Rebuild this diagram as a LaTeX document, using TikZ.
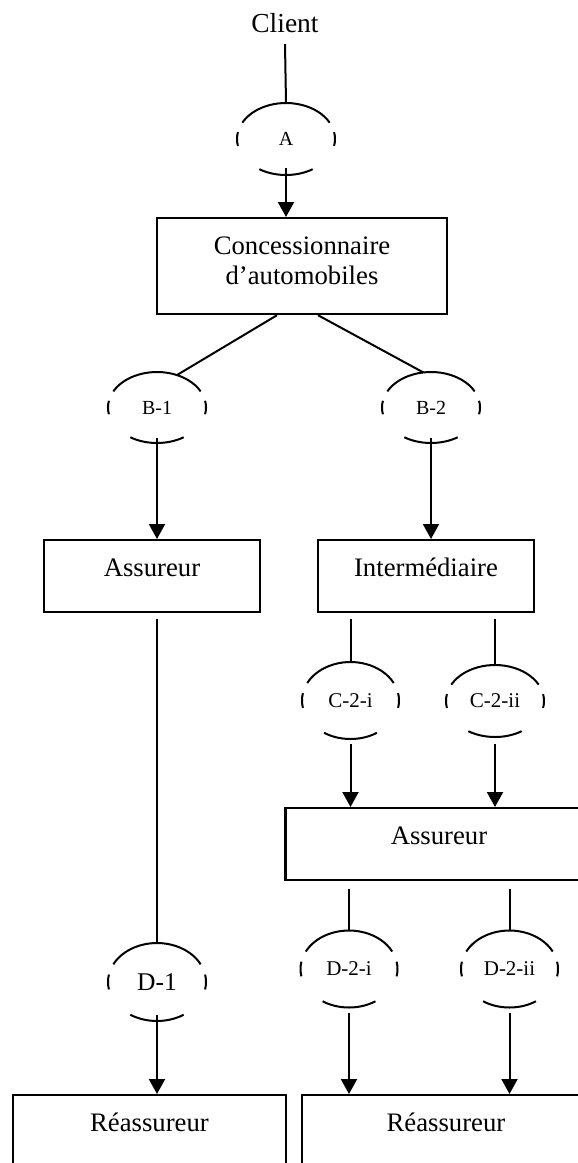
\documentclass[tikz,border=0pt]{standalone}
\usepackage{fontspec}
\setmainfont{Liberation Serif}
\usetikzlibrary{arrows.meta,shapes.geometric,calc}
\newcommand\gatearcs[3]{%
  \draw[arcline] ([shift={(27:#2 and #3)}]#1.center) arc[start angle=27,end angle=153,x radius=#2,y radius=#3];
  \draw[arcline] ([shift={(-57:#2 and #3)}]#1.center) arc[start angle=-57,end angle=-123,x radius=#2,y radius=#3];
  \draw[arcline] ([shift={(-11:#2 and #3)}]#1.center) arc[start angle=-11,end angle=11,x radius=#2,y radius=#3];
  \draw[arcline] ([shift={(169:#2 and #3)}]#1.center) arc[start angle=169,end angle=191,x radius=#2,y radius=#3];
}
\begin{document}
\begin{tikzpicture}[x=1pt,y=-1pt,
  box/.style={draw, line width=2.2pt, rectangle, inner sep=0pt, anchor=north,
    font=\fontsize{26.7}{30}\selectfont, text height=36pt, align=center},
  gate/.style={ellipse, inner sep=0pt, minimum width=98pt, font=\fontsize{20}{22}\selectfont},
  link/.style={line width=2pt},
  arr/.style={link, -{Triangle[length=15pt,width=16pt]}},
  arcline/.style={line width=2pt},
]
\clip (0,0) rectangle (578,1163);

% boxes
\node[box, minimum width=290pt, text height=66pt, text depth=30pt] (conc) at (302,217) {Concessionnaire\\d'automobiles};
\node[box, minimum width=216pt, text depth=36pt] (ass1) at (152,539) {Assureur};
\node[box, minimum width=216pt, text depth=36pt] (inter) at (426,539) {Intermédiaire};
\node[box, minimum width=307pt, text depth=36pt] (ass2) at (439,807) {Assureur};
\node[box, minimum width=273pt, text depth=60pt] (reass1) at (149.5,1094) {Réassureur};
\node[box, minimum width=288pt, text depth=60pt] (reass2) at (446,1094) {Réassureur};

% client
\node[anchor=base, font=\fontsize{27.5}{30}\selectfont, inner sep=0pt] (client) at (285,32) {Client};

% gates
\node[gate, minimum height=72pt] (A) at (286,139) {A};
\node[gate, minimum height=71pt] (B1) at (157,407.5) {B-1};
\node[gate, minimum height=71pt] (B2) at (431,407.5) {B-2};
\node[gate, minimum height=77pt, font=\fontsize{21}{23}\selectfont] (C2i) at (350.5,700.5) {C-2-i};
\node[gate, minimum height=72pt, font=\fontsize{21}{23}\selectfont] (C2ii) at (495,701) {C-2-ii};
\node[gate, minimum height=78pt, font=\fontsize{25.5}{28}\selectfont] (D1) at (157,982) {D-1};
\node[gate, minimum height=77pt, font=\fontsize{21}{23}\selectfont] (D2i) at (349,969) {D-2-i};
\node[gate, minimum height=77pt, font=\fontsize{21}{23}\selectfont] (D2ii) at (509.5,969) {D-2-ii};

\gatearcs{A}{49pt}{36pt}
\gatearcs{B1}{49pt}{35.5pt}
\gatearcs{B2}{49pt}{35.5pt}
\gatearcs{C2i}{48.5pt}{38.5pt}
\gatearcs{C2ii}{49pt}{36pt}
\gatearcs{D1}{49pt}{39pt}
\gatearcs{D2i}{48.5pt}{38.5pt}
\gatearcs{D2ii}{48.5pt}{38.5pt}

% connectors
\draw[link] ([yshift=-12pt]client.base) -- (A.north);
\draw[arr] ([yshift=-29pt]A.center) -- (A.center |- conc.north);
\draw[link] ([xshift=-25pt]conc.south) -- ([shift={(66:49pt and 35.5pt)}]B1.center);
\draw[link] ([xshift=16pt]conc.south) -- ([shift={(99:49pt and 35.5pt)}]B2.center);
\draw[arr] ([yshift=-30pt]B1.center) -- (B1.center |- ass1.north);
\draw[arr] ([yshift=-30pt]B2.center) -- (B2.center |- inter.north);
\draw[link] ($(ass1.south -| D1.center)+(0,6)$) -- (D1.north);
\draw[arr] ([yshift=-33pt]D1.center) -- (D1.center |- reass1.north);
\draw[link] ($(inter.south -| C2i.center)+(0,6)$) -- (C2i.north);
\draw[link] ($(inter.south -| C2ii.center)+(0,6)$) -- (C2ii.north);
\draw[arr] ($(C2i.south)+(0,5)$) -- (C2i.center |- ass2.north);
\draw[arr] ($(C2ii.south)+(0,7)$) -- (C2ii.center |- ass2.north);
\draw[link] ($(ass2.south -| D2i.center)+(0,8)$) -- (D2i.north);
\draw[link] ($(ass2.south -| D2ii.center)+(0,8)$) -- (D2ii.north);
\draw[arr] ($(D2i.south)+(0,5)$) -- (D2i.center |- reass2.north);
\draw[arr] ($(D2ii.south)+(0,5)$) -- (D2ii.center |- reass2.north);
\end{tikzpicture}
\end{document}
